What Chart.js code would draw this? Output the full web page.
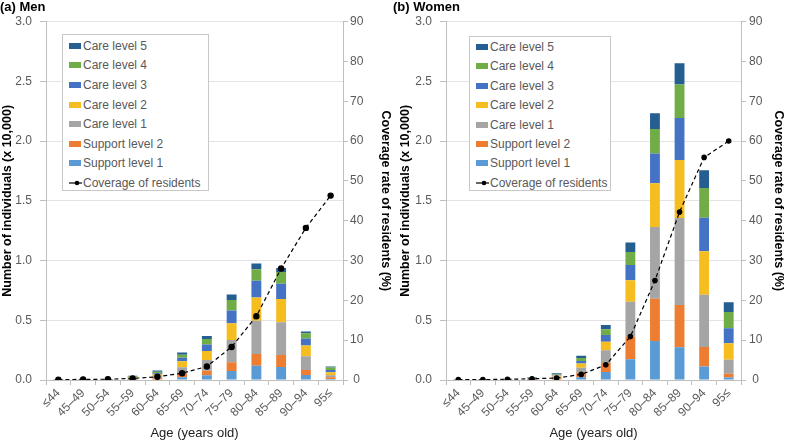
<!DOCTYPE html>
<html>
<head>
<meta charset="utf-8">
<script src="https://cdn.jsdelivr.net/npm/chart.js@4.4.0/dist/chart.umd.min.js"></script>
<style>
  body { margin: 0; background: #fff; font-family: "Liberation Sans", Arial, sans-serif; }
  #wrap { display: flex; width: 786px; height: 441px; }
  .panel { position: relative; width: 393px; height: 441px; }
  .legend { position: absolute; background: #fff; border: 1px solid #c8c8c8; box-sizing: border-box; }
  .legend div { position: absolute; left: 6px; height: 14px; line-height: 14px; font-size: 12px; color: #595959; white-space: nowrap; }
  .legend .sw { display: inline-block; width: 12px; height: 6px; margin-right: 2px; vertical-align: 1px; }
</style>
</head>
<body>
<div id="wrap">
  <div class="panel"><canvas id="men" width="393" height="441"></canvas><div class="legend" id="legend-men"></div></div>
  <div class="panel"><canvas id="women" width="393" height="441"></canvas><div class="legend" id="legend-women"></div></div>
</div>
<script>
var ages = ["≤44", "45–49", "50–54", "55–59", "60–64", "65–69", "70–74", "75–79", "80–84", "85–89", "90–94", "95≤"];
var levelNames = ["Support level 1", "Support level 2", "Care level 1", "Care level 2", "Care level 3", "Care level 4", "Care level 5"];
var levelColors = ["#5b9bd5", "#ed7d31", "#a5a5a5", "#f5bd1f", "#4472c4", "#70ad47", "#255e91"];
var yTicks = [0, 0.5, 1.0, 1.5, 2.0, 2.5, 3.0];
var coverageTicks = [0, 10, 20, 30, 40, 50, 60, 70, 80, 90];

// number of individuals (x 10,000) by level, men
var menSupport1 = [0.001, 0.001, 0.001, 0.003, 0.005, 0.022, 0.039, 0.075, 0.120, 0.109, 0.042, 0.008];
var menSupport2 = [0.001, 0.001, 0.001, 0.004, 0.010, 0.028, 0.039, 0.073, 0.098, 0.100, 0.042, 0.014];
var menCare1 = [0.001, 0.001, 0.002, 0.007, 0.015, 0.056, 0.089, 0.187, 0.277, 0.274, 0.115, 0.017];
var menCare2 = [0.001, 0.001, 0.001, 0.007, 0.015, 0.050, 0.075, 0.140, 0.196, 0.196, 0.089, 0.025];
var menCare3 = [0, 0.001, 0.001, 0.005, 0.012, 0.030, 0.056, 0.106, 0.140, 0.126, 0.059, 0.020];
var menCare4 = [0, 0, 0.001, 0.005, 0.012, 0.025, 0.045, 0.089, 0.095, 0.098, 0.045, 0.020];
var menCare5 = [0, 0, 0.001, 0.004, 0.010, 0.020, 0.025, 0.045, 0.050, 0.034, 0.014, 0.008];
var menCoverage = [0.1, 0.15, 0.2, 0.4, 0.8, 1.7, 3.4, 8.3, 16.0, 28.0, 38.2, 46.3];

// women
var womenSupport1 = [0.001, 0.001, 0.001, 0.002, 0.004, 0.022, 0.067, 0.173, 0.327, 0.274, 0.114, 0.020];
var womenSupport2 = [0.001, 0.001, 0.001, 0.004, 0.012, 0.039, 0.075, 0.190, 0.354, 0.354, 0.162, 0.033];
var womenCare1 = [0.001, 0.001, 0.001, 0.005, 0.012, 0.042, 0.106, 0.293, 0.600, 0.728, 0.438, 0.117];
var womenCare2 = [0, 0.001, 0.001, 0.004, 0.010, 0.036, 0.073, 0.179, 0.366, 0.486, 0.363, 0.137];
var womenCare3 = [0, 0, 0.001, 0.003, 0.007, 0.020, 0.056, 0.128, 0.248, 0.352, 0.282, 0.126];
var womenCare4 = [0, 0, 0.001, 0.004, 0.008, 0.025, 0.047, 0.109, 0.207, 0.279, 0.248, 0.137];
var womenCare5 = [0, 0, 0, 0.003, 0.006, 0.020, 0.036, 0.078, 0.131, 0.179, 0.148, 0.081];
var womenCoverage = [0.1, 0.1, 0.2, 0.3, 0.5, 1.4, 3.8, 10.9, 25.0, 42.2, 55.9, 60.0];

var fontFamily = '"Liberation Sans", Arial, sans-serif';
var axisGrey = "#bfbfbf";
var textGrey = "#595959";

function makeChart(canvasId, title, levels, coverage, s) {
  var datasets = [{
    type: "line",
    label: "Coverage of residents",
    data: coverage,
    yAxisID: "y1",
    borderColor: "#000",
    backgroundColor: "#000",
    borderWidth: 1.2,
    borderDash: [4, 3],
    pointRadius: s.pointRadius,
    pointHoverRadius: s.pointRadius,
    tension: 0,
    order: 0
  }];
  for (var i = 0; i < levels.length; i++) {
    datasets.push({
      type: "bar",
      label: levelNames[i],
      data: levels[i],
      backgroundColor: levelColors[i],
      yAxisID: "y",
      barPercentage: 0.4,
      categoryPercentage: 1,
      order: 1
    });
  }

  return new Chart(document.getElementById(canvasId), {
    data: { labels: ages, datasets: datasets },
    options: {
      responsive: false,
      animation: false,
      layout: { padding: 0 },
      plugins: {
        legend: { display: false },
        tooltip: { enabled: false },
        title: {
          display: true,
          text: title,
          align: "start",
          color: "#000",
          font: { family: fontFamily, size: 13, weight: "bold" },
          padding: { top: 0, bottom: 6 }
        }
      },
      scales: {
        x: {
          stacked: true,
          offset: true,
          grid: { display: true, drawOnChartArea: false, color: axisGrey, tickLength: 5, offset: true },
          border: { color: axisGrey },
          ticks: { color: textGrey, font: { family: fontFamily, size: 12 }, minRotation: 45, maxRotation: 45, autoSkip: false, padding: 1 },
          title: { display: true, text: "Age (years old)", color: "#222", font: { family: fontFamily, size: 13 }, padding: 0 },
          afterFit: function(scale) { scale.height = 61; }
        },
        y: {
          stacked: true,
          position: "left",
          min: 0,
          max: 3,
          afterBuildTicks: function(scale) { scale.ticks = yTicks.map(function(v) { return { value: v }; }); },
          grid: { color: "#e4e4e4", tickColor: axisGrey, tickLength: 6 },
          border: { color: axisGrey },
          ticks: {
            color: textGrey, font: { family: fontFamily, size: 12 }, padding: 8,
            callback: function(v) { return Number(v).toFixed(1); }
          },
          title: { display: true, text: "Number of individuals (x 10,000)", color: "#000", font: { family: fontFamily, size: 12.5, weight: "bold" }, padding: { top: s.leftTitlePad, bottom: 0 } },
          afterFit: function(scale) { scale.width = s.leftWidth; }
        },
        y1: {
          position: "right",
          min: 0,
          max: 90,
          afterBuildTicks: function(scale) { scale.ticks = coverageTicks.map(function(v) { return { value: v }; }); },
          grid: { drawOnChartArea: false, color: axisGrey, tickLength: 5 },
          border: { color: axisGrey },
          ticks: { color: textGrey, font: { family: fontFamily, size: 12 }, padding: s.rightTickPad, crossAlign: "center" },
          title: { display: true, text: "Coverage rate of residents (%)", color: "#000", font: { family: fontFamily, size: 12.5, weight: "bold" }, padding: 0 },
          afterFit: function(scale) { scale.width = s.rightWidth; }
        }
      }
    }
  });
}

function buildLegend(chart, id, box) {
  var el = document.getElementById(id);
  el.style.left = box.left + "px";
  el.style.top = box.top + "px";
  el.style.width = box.width + "px";
  el.style.height = box.height + "px";
  var ds = chart.data.datasets;
  var rows = [];
  for (var i = ds.length - 1; i >= 1; i--) {
    rows.push('<span class="sw" style="background:' + ds[i].backgroundColor + '"></span>' + ds[i].label);
  }
  rows.push('<svg width="14" height="8" style="margin-right:0;vertical-align:0px"><line x1="0" y1="4" x2="13" y2="4" stroke="#000" stroke-width="1.2"/><circle cx="8" cy="4" r="2.3" fill="#000"/></svg>' + ds[0].label);
  var html = "";
  for (var j = 0; j < rows.length; j++) {
    html += '<div style="top:' + (box.firstRow + j * box.step - 7) + 'px">' + rows[j] + "</div>";
  }
  el.innerHTML = html;
}

var menChart = makeChart("men", "(a) Men",
  [menSupport1, menSupport2, menCare1, menCare2, menCare3, menCare4, menCare5], menCoverage,
  { pointRadius: 2.6, leftWidth: 46, rightWidth: 50, leftTitlePad: 0, rightTickPad: 2 });
var womenChart = makeChart("women", "(b) Women",
  [womenSupport1, womenSupport2, womenCare1, womenCare2, womenCare3, womenCare4, womenCare5], womenCoverage,
  { pointRadius: 2.2, leftWidth: 53, rightWidth: 45, leftTitlePad: 5, rightTickPad: 3 });

buildLegend(menChart, "legend-men", { left: 62, top: 34, width: 147, height: 157, firstRow: 10.7, step: 19.6 });
buildLegend(womenChart, "legend-women", { left: 76, top: 36, width: 142, height: 155, firstRow: 10, step: 19.4 });
</script>
</body>
</html>
